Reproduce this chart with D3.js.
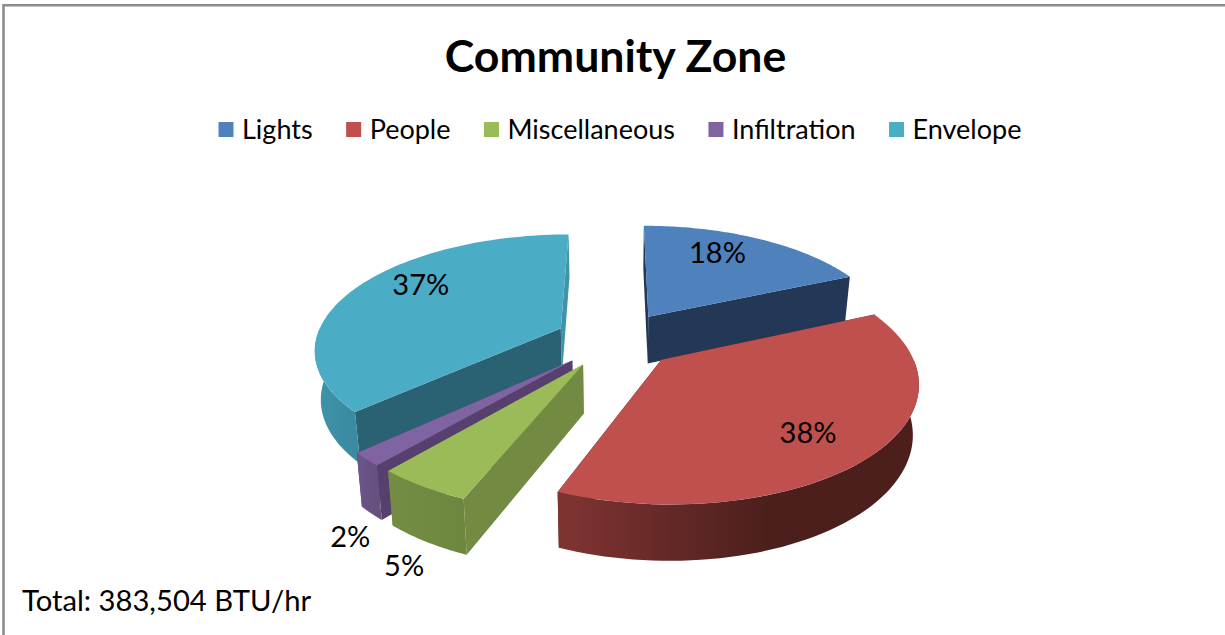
<!DOCTYPE html>
<html><head><meta charset="utf-8">
<script src="https://cdnjs.cloudflare.com/ajax/libs/d3/7.8.5/d3.min.js"></script>
<style>html,body{margin:0;padding:0;background:#fff}svg{display:block}text{font-family:Lato,"Open Sans",sans-serif;fill:#000}</style>
</head><body><div id="c"></div>
<script>
const categories = ["Lights","People","Miscellaneous","Infiltration","Envelope"];
const percents = [18.4,37.7,5.15,1.85,36.9];
const topColors = ["#4f81bd","#c0504d","#9bbb59","#8064a2","#4bacc6"];
const sideColors = ["#233857","#4c1f1d","#728a42","#573f6e","#2a6273"];
const rimStart = ["#233857","#803432","#748c43","#6c5589","#3f93aa"];
const rimEnd = ["#233857","#4c1f1d","#6e8740","#65507f","#3a8aa1"];
const labelAngles = [26.8,137.2,201.9,209.6,303.6];
const labelRadii = [0.75,0.75,1.39,1.35,0.765];
const title = "Community Zone";
const footnote = "Total: 383,504 BTU/hr";

const W=1225,H=635, cx=616, cy=339.5, Rx=245, Ry=113, D=6, explode=0.25, depth=48, shrink=0.98;
const svg=d3.select("#c").append("svg").attr("width",W).attr("height",H);
svg.append("rect").attr("width",W).attr("height",H).attr("fill","#fff");
svg.append("path").attr("d",`M3.5,635V5.2H1225`).attr("fill","none").attr("stroke","#8c8c8c").attr("stroke-width",2.6);

const pie=d3.pie().sort(null).value(d=>d)(percents);
const X=d3.scaleLinear().domain([0,1]).range([cx,cx+Rx]);
const Y=d3.scaleLinear().domain([0,1]).range([cy,cy+Ry]);
function proj(x,y,low){
  const s=D/(D-y);
  let px=X(x*s), py=Y(y*s);
  if(low){px=cx+(px-cx)*shrink; py=cy+(py-cy)*shrink+depth*s;}
  return [px,py];
}
const line=d3.line();
const defs=svg.append("defs");
const order=[0,4,1,3,2];
order.forEach(i=>{
  const d=pie[i], mid=(d.startAngle+d.endAngle)/2;
  const ox=Math.sin(mid)*explode, oy=-Math.cos(mid)*explode;
  const rim=(t,r=1)=>[ox+Math.sin(t)*r, oy-Math.cos(t)*r];
  const g=svg.append("g").attr("class","slice");
  const apex=[ox,oy];
  const faces=[d.startAngle,d.endAngle].map(t=>rim(t)).sort((a,b)=>a[1]-b[1]);
  faces.forEach(c=>{
    g.append("path").attr("d",line([proj(...apex),proj(...c),proj(...c,true),proj(...apex,true)])+"Z")
     .attr("fill",c[1]<oy&&i===4?rimStart[i]:sideColors[i]);
  });
  const a0=Math.max(d.startAngle,Math.PI/2), a1=Math.min(d.endAngle,3*Math.PI/2);
  if(a1>a0){
    const ts=d3.range(0,61).map(k=>a0+(a1-a0)*k/60);
    const up=ts.map(t=>proj(...rim(t))), low=ts.map(t=>proj(...rim(t),true)).reverse();
    const id="g"+i, xs=up.map(p=>p[0]);
    const lg=defs.append("linearGradient").attr("id",id).attr("gradientUnits","userSpaceOnUse")
      .attr("x1",d3.min(xs)).attr("x2",i===1?d3.min(xs)+210:d3.max(xs)).attr("y1",0).attr("y2",0);
    lg.append("stop").attr("offset",0).attr("stop-color",rimStart[i]);
    lg.append("stop").attr("offset",1).attr("stop-color",rimEnd[i]);
    g.append("path").attr("d",line(up.concat(low))+"Z").attr("fill",`url(#${id})`);
  }
  const ts=d3.range(0,81).map(k=>d.startAngle+(d.endAngle-d.startAngle)*k/80);
  g.append("path").attr("d",line([proj(...apex)].concat(ts.map(t=>proj(...rim(t)))))+"Z").attr("fill",topColors[i]);
});
pie.forEach((d,i)=>{
  const mid=(d.startAngle+d.endAngle)/2;
  const ox=Math.sin(mid)*explode, oy=-Math.cos(mid)*explode;
  const t=labelAngles[i]*Math.PI/180, r=labelRadii[i];
  const p=proj(ox+Math.sin(t)*r, oy-Math.cos(t)*r);
  svg.append("text").attr("x",p[0]).attr("y",p[1]).attr("dy","0.35em").attr("text-anchor","middle")
    .attr("font-size",29).text(Math.round(percents[i])+"%");
});
svg.append("text").attr("x",615.5).attr("y",72).attr("text-anchor","middle").attr("font-size",44.6).attr("font-weight",700).text(title);
const leg=svg.append("g");
let lx=0;
categories.forEach((c,i)=>{
  leg.append("rect").attr("x",lx).attr("y",122).attr("width",15).attr("height",15).attr("fill",topColors[i]);
  const t=leg.append("text").attr("x",lx+23.5).attr("y",138.5).attr("font-size",27).text(c);
  lx+=23.5+t.node().getComputedTextLength()+33.5;
});
leg.attr("transform",`translate(${218.5},0)`);
svg.append("text").attr("x",22).attr("y",611).attr("font-size",29.2).text(footnote);
</script></body></html>
